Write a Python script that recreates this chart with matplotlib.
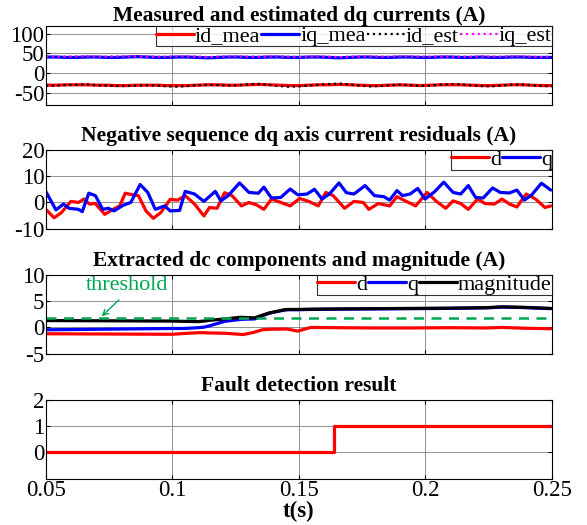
import numpy as np
import matplotlib.pyplot as plt

plt.rcParams['font.family'] = ['Liberation Serif', 'DejaVu Serif']
plt.rcParams['axes.unicode_minus'] = False

# panel 1: measured / estimated dq currents
t1 = np.linspace(0.05, 0.25, 51)
id_mea = [-30, -30, -29, -29, -29, -30, -30, -31, -31, -30, -30, -30, -31, -31, -31, -30, -29,
          -29, -30, -30, -29, -28, -29, -30, -31, -31, -30, -29, -29, -28, -29, -30, -31, -31,
          -30, -29, -30, -31, -30, -29, -29, -29, -30, -31, -31, -30, -29, -29, -30, -31, -31]
iq_mea = [41, 41, 40, 40, 41, 41, 40, 40, 41, 42, 41, 40, 40, 41, 41, 40, 39, 40, 41, 41, 40,
          40, 41, 41, 40, 40, 41, 41, 40, 39, 40, 41, 41, 40, 40, 41, 41, 40, 40, 41, 41, 40,
          40, 41, 40, 40, 41, 41, 40, 40, 40]
id_est = [-32, -31, -30, -29, -28, -30, -31, -32, -32, -31, -30, -31, -33, -34, -32, -30, -29,
          -30, -31, -30, -28, -27, -29, -32, -34, -33, -31, -29, -27, -26, -28, -31, -33, -32,
          -30, -29, -30, -32, -31, -29, -27, -28, -30, -32, -33, -31, -29, -28, -30, -32, -33]
iq_est = [43, 42, 42, 43, 43, 42, 42, 43, 43, 43, 42, 42, 42, 43, 43, 42, 41, 42, 43, 43, 42,
          42, 43, 43, 42, 41, 42, 43, 42, 41, 42, 43, 43, 42, 42, 43, 43, 42, 42, 43, 42, 42,
          42, 43, 42, 42, 43, 43, 42, 41, 42]

# panel 2: negative sequence residuals
t_rq = [0.0500, 0.0540, 0.0570, 0.0592, 0.0629, 0.0644, 0.0670, 0.0696, 0.0725, 0.0747, 0.0770,
        0.0807, 0.0836, 0.0873, 0.0903, 0.0933, 0.0970, 0.0992, 0.1029, 0.1051, 0.1088, 0.1125,
        0.1170, 0.1192, 0.1221, 0.1266, 0.1303, 0.1340, 0.1362, 0.1392, 0.1429, 0.1466, 0.1496,
        0.1533, 0.1562, 0.1592, 0.1621, 0.1659, 0.1688, 0.1718, 0.1762, 0.1799, 0.1836, 0.1859,
        0.1888, 0.1910, 0.1940, 0.1970, 0.1999, 0.2036, 0.2073, 0.2110, 0.2140, 0.2170, 0.2199,
        0.2229, 0.2266, 0.2296, 0.2333, 0.2362, 0.2392, 0.2421, 0.2459, 0.2496]
res_q = [4.2, -2.8, -0.6, -2.2, -2.6, -3.5, 3.5, 2.6, -2.6, -2.2, -3.2, -1.0, 0.0, 6.8, 3.8, -2.6,
         -1.3, -3.2, -3.0, 4.2, 3.2, 0.4, 4.2, 0.6, 2.6, 7.4, 3.8, 3.5, 5.8, 1.7, 1.9, 5.1, 2.9,
         3.2, 5.0, 1.3, 3.2, 7.4, 3.7, 3.2, 6.4, 2.6, 2.2, 0.9, 4.5, 2.6, 3.2, 5.3, 1.3, 4.0, 7.7,
         3.8, 3.2, 6.4, 1.9, 1.7, 5.5, 3.8, 3.6, 4.7, 0.9, 2.9, 7.3, 4.7]
t_rd = [0.0500, 0.0533, 0.0562, 0.0599, 0.0629, 0.0651, 0.0673, 0.0696, 0.0733, 0.0762, 0.0792,
        0.0814, 0.0844, 0.0866, 0.0896, 0.0925, 0.0955, 0.0992, 0.1021, 0.1051, 0.1088, 0.1125,
        0.1147, 0.1177, 0.1207, 0.1236, 0.1273, 0.1303, 0.1333, 0.1362, 0.1392, 0.1429, 0.1466,
        0.1503, 0.1540, 0.1577, 0.1607, 0.1636, 0.1681, 0.1718, 0.1755, 0.1777, 0.1814, 0.1859,
        0.1888, 0.1925, 0.1962, 0.2007, 0.2044, 0.2081, 0.2110, 0.2140, 0.2170, 0.2207, 0.2236,
        0.2273, 0.2303, 0.2333, 0.2362, 0.2399, 0.2436, 0.2473, 0.2496]
res_d = [-2.6, -5.8, -3.8, 0.4, 0.0, 1.3, -0.6, -0.4, -4.5, -2.8, -1.3, 3.5, 2.9, 2.6, -3.2, -6.0,
         -3.8, 1.2, 0.9, 2.6, -0.6, -5.1, -1.9, -2.2, 3.7, 2.6, -1.3, 0.0, -0.9, -2.6, 1.3, 0.0,
         -1.3, 1.5, 0.4, -1.3, 3.8, 2.6, -2.2, 0.4, 0.0, -2.6, -0.4, -1.3, 2.2, 0.4, -1.3, 3.8,
         0.4, -2.2, 0.6, -0.4, -2.6, 1.3, -0.4, -0.6, 1.3, -0.6, -1.7, 3.2, 1.3, -1.9, -1.3]

# panel 3: extracted dc components
t_dc = [0.0500, 0.0999, 0.1044, 0.1103, 0.1125, 0.1147, 0.1207, 0.1266, 0.1281, 0.1325, 0.1355,
        0.1384, 0.1444, 0.1459, 0.1496, 0.1547, 0.1651, 0.1799, 0.1947, 0.2096, 0.2244, 0.2303,
        0.2392, 0.2496]
dc_d = [-1.2, -1.3, -1.15, -1.0, -1.0, -1.05, -1.1, -1.3, -1.35, -0.9, -0.45, -0.35, -0.3, -0.35,
        -0.7, 0.0, -0.05, -0.1, -0.1, -0.05, -0.1, 0.0, -0.15, -0.25]
dc_q = [-0.45, -0.2, -0.2, -0.05, 0.05, 0.3, 1.15, 1.5, 1.55, 1.6, 2.2, 2.7, 3.3, 3.35, 3.35, 3.4,
        3.45, 3.5, 3.55, 3.6, 3.7, 3.85, 3.75, 3.55]
dc_mag = [1.3, 1.2, 1.15, 1.1, 1.2, 1.35, 1.6, 1.9, 1.9, 1.8, 2.3, 2.75, 3.35, 3.4, 3.4, 3.45,
          3.5, 3.55, 3.6, 3.65, 3.75, 3.9, 3.8, 3.6]
threshold = 1.7

# panel 4: fault flag
t_flag = [0.05, 0.164, 0.25]
flag = [0, 1, 1]

red, blue = '#ff0000', '#0000ff'
green = '#00a651'

fig = plt.figure(figsize=(5.87, 5.25), dpi=100)
left, width, h = 0.078, 0.862, 0.151
axs = [fig.add_axes([left, b, width, h]) for b in (0.800, 0.564, 0.326, 0.088)]

tfs, lfs, ttl = 16.5, 16, 15.5
lkw = dict(lw=2.3, solid_joinstyle='round', solid_capstyle='round')

ax = axs[0]
ax.plot(t1, id_mea, color=red, label='id_mea', **lkw)
ax.plot(t1, iq_mea, color=blue, label='iq_mea', **lkw)
ax.plot(t1, id_est, color='black', lw=1.6, ls=':', label='id_est')
ax.plot(t1, iq_est, color='magenta', lw=1.6, ls=':', label='iq_est')
ax.set_ylim(-80, 120)
ax.set_yticks([-50, 0, 50, 100])
ax.set_title('Measured and estimated dq currents (A)', fontsize=ttl, fontweight='bold', pad=1)

ax = axs[1]
ax.plot(t_rd, res_d, color=red, label='d', **lkw)
ax.plot(t_rq, res_q, color=blue, label='q', **lkw)
ax.set_ylim(-10, 20)
ax.set_yticks([-10, 0, 10, 20])
ax.set_title('Negative sequence dq axis current residuals (A)', fontsize=ttl, fontweight='bold', pad=6)

ax = axs[2]
ax.plot(t_dc, dc_d, color=red, label='d', **lkw)
ax.plot(t_dc, dc_q, color=blue, label='q', **lkw)
ax.plot(t_dc, dc_mag, color='black', label='magnitude', **lkw)
ax.axhline(threshold, color=green, lw=1.8, ls='--', dashes=(4, 3))
ax.text(0.082, 8.0, 'threshold', color=green, fontsize=lfs, ha='center', va='center')
ax.annotate('', xy=(0.0721, 2.1), xytext=(0.0789, 5.2),
            arrowprops=dict(arrowstyle='->', color=green, lw=1, shrinkA=0, shrinkB=0))
ax.set_ylim(-5, 10)
ax.set_yticks([-5, 0, 5, 10])
ax.set_title('Extracted dc components and magnitude (A)', fontsize=ttl, fontweight='bold', pad=6)

ax = axs[3]
ax.plot(t_flag, flag, color=red, lw=2.3, drawstyle='steps-post')
ax.set_ylim(-1, 2)
ax.set_yticks([0, 1, 2])
ax.set_title('Fault detection result', fontsize=ttl, fontweight='bold', pad=6)
ax.set_xlabel('t(s)', fontsize=tfs, fontweight='bold', labelpad=0)

for i, ax in enumerate(axs):
    ax.set_xlim(0.05, 0.25)
    ax.set_xticks([0.05, 0.1, 0.15, 0.2, 0.25])
    ax.grid(True, color='#808080', lw=0.6)
    ax.set_axisbelow(True)
    ax.tick_params(direction='in', labelsize=tfs, length=3, pad=1, top=True, right=True)
    for s in ax.spines.values():
        s.set_linewidth(0.8)
    if i < 3:
        ax.tick_params(labelbottom=False)
    else:
        ax.set_xticklabels(['0.05', '0.1', '0.15', '0.2', '0.25'])

leg_kw = dict(loc='upper right', fontsize=lfs, frameon=True, fancybox=False, edgecolor='black',
              borderpad=0.0, handlelength=1.7, handletextpad=0.05, columnspacing=0.05,
              borderaxespad=0.0, labelspacing=0.1)
axs[0].legend(ncol=4, **leg_kw)
axs[1].legend(ncol=2, **leg_kw)
axs[2].legend(ncol=3, **leg_kw)
for a in axs[:3]:
    a.get_legend().get_frame().set_linewidth(0.8)

fig.savefig('out.png', dpi=100)
